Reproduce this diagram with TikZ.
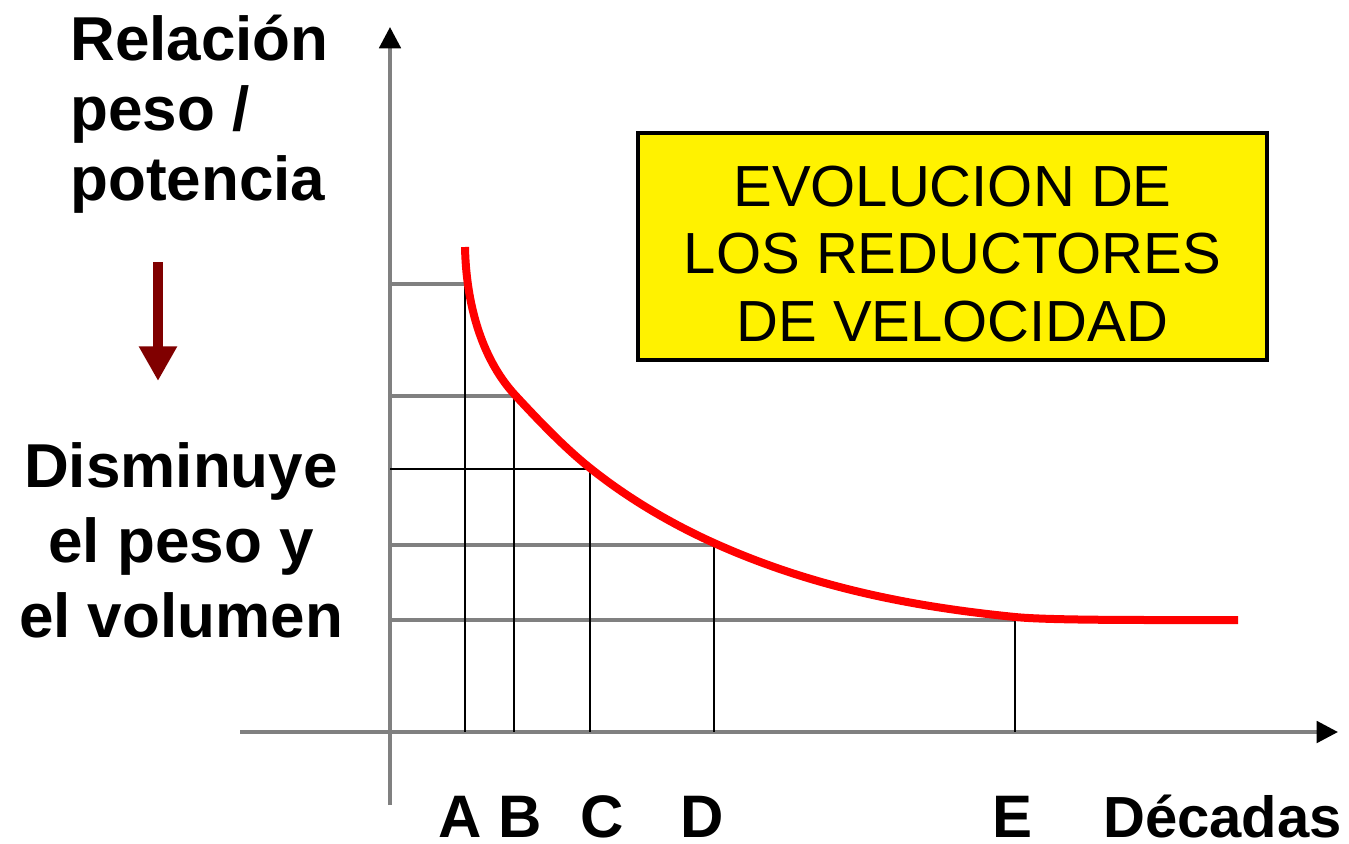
\documentclass[tikz,border=0pt]{standalone}
\usepackage{fontspec}
\setmainfont{Liberation Sans}
\usetikzlibrary{arrows.meta}
\definecolor{axisgray}{RGB}{128,128,128}
\definecolor{brownred}{RGB}{128,0,0}
\tikzset{
  lbl/.style={font=\bfseries\fontsize{46.5}{52}\selectfont, inner sep=0pt},
  tick/.style={font=\bfseries\fontsize{45}{52}\selectfont, inner sep=0pt, anchor=base},
  axis/.style={draw=axisgray, line width=3pt, -{Triangle[length=16pt,width=16pt,color=black]}},
  gridgray/.style={draw=axisgray, line width=3pt},
  gridblack/.style={draw=black, line width=2pt},
  drop/.style={draw=black, line width=2pt},
  curve/.style={draw=red, line width=6pt},
  titlebox/.style={draw=black, fill=yellow, line width=3pt, minimum width=629*0.75pt, minimum height=227*0.75pt, inner sep=0pt},
  titletext/.style={font=\fontsize{43.5}{50.5}\selectfont, align=center, inner sep=0pt}
}
\begin{document}
\begin{tikzpicture}[x=0.75pt,y=-0.75pt]
\useasboundingbox (0,0) rectangle (1349,843);
% axes
\coordinate (ybot) at (390,805);
\coordinate (ytop) at (390,27);
\coordinate (xleft) at (240,732);
\coordinate (xright) at (1338,732);
\draw[axis] (ybot) -- (ytop);
\draw[axis] (xleft) -- (xright);
% curve points
\coordinate (pA) at (465,284);
\coordinate (pB) at (514,396);
\coordinate (pC) at (590,469);
\coordinate (pD) at (714,545);
\coordinate (pE) at (1015,620);
% horizontal grid lines
\draw[gridgray] (390,284) -- (pA);
\draw[gridgray] (390,396) -- (pB);
\draw[gridblack] (390,469) -- (pC);
\draw[gridgray] (390,545) -- (pD);
\draw[gridgray] (390,620) -- (pE);
% vertical drops
\draw[drop] (pA) -- (465,732);
\draw[drop] (pB) -- (514,732);
\draw[drop] (pC) -- (590,732);
\draw[drop] (pD) -- (714,732);
\draw[drop] (pE) -- (1015,732);
% red curve
\coordinate (cstart) at (465,247);
\coordinate (cend) at (1238,620);
\draw[curve] (cstart) .. controls (466,300) and (480,357) .. (515,395)
  .. controls (540,422) and (565,448) .. (590,468)
  .. controls (630,500) and (674,525) .. (714,543)
  .. controls (814,588) and (915,607) .. (1015,617)
  .. controls (1050,620.5) and (1150,620) .. (cend);
% title box
\node[titlebox] (box) at (952.5,246.5) {};
\node[titletext] (title) at (952.5,254) {EVOLUCION DE\\LOS REDUCTORES\\DE VELOCIDAD};
% left texts
\node[lbl, anchor=base west] (rel1) at (70,60) {Relación};
\node[lbl, anchor=base west] (rel2) at (70,130) {peso /};
\node[lbl, anchor=base west] (rel3) at (70,200) {potencia};
\coordinate (arrtop) at (158,262);
\coordinate (arrtip) at (158,381);
\draw[brownred, line width=7.5pt, -{Triangle[length=26pt,width=27pt]}] (arrtop) -- (arrtip);
\node[lbl, anchor=base] (dis1) at (181,487) {Disminuye};
\node[lbl, anchor=base] (dis2) at (181,562) {el peso y};
\node[lbl, anchor=base] (dis3) at (181,637) {el volumen};
% ticks
\node[tick] (A) at (460,837) {A};
\node[tick] (B) at (520,837) {B};
\node[tick] (C) at (602,837) {C};
\node[tick] (D) at (702,837) {D};
\node[tick] (E) at (1012,837) {E};
\node[lbl, anchor=base west, font=\bfseries\fontsize{43.5}{50}\selectfont] (dec) at (1103,837) {Décadas};
\end{tikzpicture}
\end{document}
